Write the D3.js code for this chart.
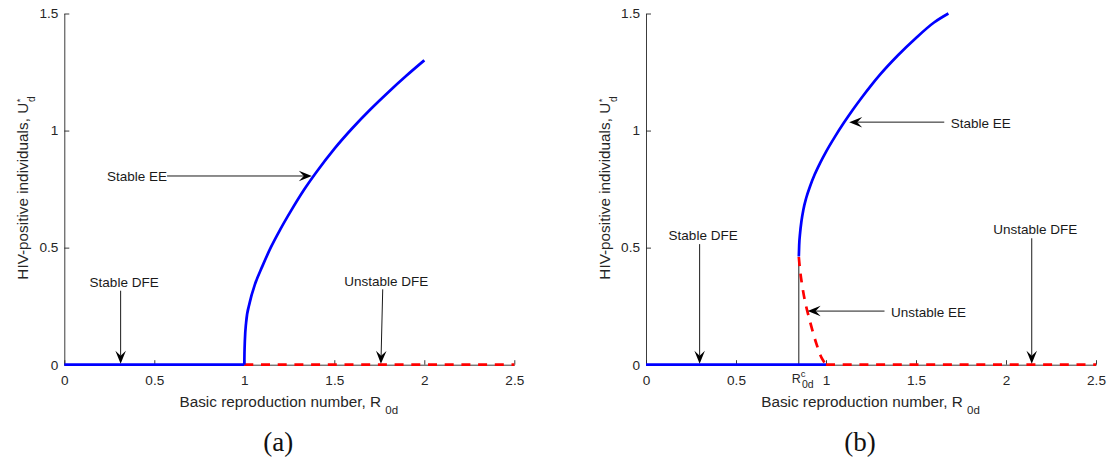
<!DOCTYPE html>
<html>
<head>
<meta charset="utf-8">
<script src="https://cdn.jsdelivr.net/npm/d3@7"></script>
<style>
  html, body { margin: 0; padding: 0; background: #fff; }
  svg { display: block; }
  .tick text { font-family: "Liberation Sans", Arial, Helvetica, sans-serif; font-size: 13.6px; fill: #262626; }
</style>
</head>
<body>
<svg id="chart" width="1110" height="466"></svg>
<script>
// Axis ticks shared by both panels
const xTicks = [0, 0.5, 1, 1.5, 2, 2.5];
const yTicks = [0, 0.5, 1, 1.5];

// Panel (a): forward bifurcation
const aDfeStableX = [0, 1];
const aDfeStableY = [0, 0];
const aDfeUnstableX = [1, 2.5];
const aDfeUnstableY = [0, 0];
const aEeX = [1.0, 1.001, 1.003, 1.01, 1.03, 1.06, 1.10, 1.15, 1.20, 1.26, 1.33, 1.40, 1.50, 1.60, 1.70, 1.80, 1.90, 2.0];
const aEeY = [0, 0.05, 0.10, 0.18, 0.265, 0.345, 0.42, 0.505, 0.578, 0.658, 0.745, 0.822, 0.922, 1.01, 1.09, 1.164, 1.234, 1.30];

// Panel (b): backward bifurcation
const bDfeStableX = [0, 1];
const bDfeStableY = [0, 0];
const bDfeUnstableX = [1, 2.5];
const bDfeUnstableY = [0, 0];
const bEeStableX = [0.849, 0.851, 0.856, 0.864, 0.874, 0.89, 0.911, 0.937, 0.967, 1.0, 1.05, 1.1, 1.15, 1.2, 1.25, 1.3, 1.4, 1.5, 1.6, 1.68];
const bEeStableY = [0.462, 0.51, 0.562, 0.615, 0.661, 0.712, 0.761, 0.812, 0.861, 0.909, 0.974, 1.034, 1.09, 1.1425, 1.192, 1.2385, 1.3215, 1.3955, 1.4615, 1.5];
const bEeUnstableX = [0.849, 0.855, 0.863, 0.882, 0.909, 0.946, 0.975, 1.0];
const bEeUnstableY = [0.46, 0.41, 0.362, 0.276, 0.191, 0.091, 0.03, 0];
const bThresholdR = 0.849;      // R_0d^c
const bThresholdTop = 0.455;

// Arrow annotations (data units: tail -> head)
const aNotes = [
  { label: "Stable EE",    x0: 0.571, y0: 0.806, x1: 1.375, y1: 0.806, side: "left" },
  { label: "Stable DFE",   x0: 0.313, y0: 0.316, x1: 0.313, y1: 0.004, side: "top" },
  { label: "Unstable DFE", x0: 1.769, y0: 0.322, x1: 1.759, y1: 0.004, side: "top" }
];
const bNotes = [
  { label: "Stable DFE",   x0: 0.298, y0: 0.515, x1: 0.298, y1: 0.004, side: "top" },
  { label: "Unstable EE",  x0: 1.325, y0: 0.229, x1: 0.898, y1: 0.229, side: "right" },
  { label: "Unstable DFE", x0: 2.143, y0: 0.540, x1: 2.143, y1: 0.004, side: "top" },
  { label: "Stable EE",    x0: 1.657, y0: 1.036, x1: 1.129, y1: 1.036, side: "right" }
];

const panelNames = ["(a)", "(b)"];

const SANS = '"Liberation Sans", Arial, Helvetica, sans-serif';
const svg = d3.select("#chart");

const y = d3.scaleLinear().domain([0, 1.5]).range([364.7, 13.5]);
const xA = d3.scaleLinear().domain([0, 2.5]).range([64.3, 514.3]);
const xB = d3.scaleLinear().domain([0, 2.5]).range([646, 1096]);

function zip(xs, ys) { return xs.map((v, i) => [v, ys[i]]); }

function drawAxes(g, x) {
  const xAxis = d3.axisBottom(x).tickValues(xTicks).tickFormat(d3.format("~g"))
    .tickSizeInner(-4.5).tickSizeOuter(0).tickPadding(10.8);
  const yAxis = d3.axisLeft(y).tickValues(yTicks).tickFormat(d3.format("~g"))
    .tickSizeInner(-5).tickSizeOuter(0).tickPadding(6);
  const gx = g.append("g").attr("transform", `translate(0,${y(0)})`).call(xAxis);
  const gy = g.append("g").attr("transform", `translate(${x(0)},0)`).call(yAxis);
  [gx, gy].forEach(a => {
    a.select(".domain").attr("stroke", "#262626").attr("stroke-width", 0.9);
    a.selectAll(".tick line").attr("stroke", "#262626").attr("stroke-width", 0.9);
    a.attr("font-family", null).attr("font-size", null);
  });
}

function drawLabels(g, x, name) {
  const [r0, r1] = x.range();
  const cx = (r0 + r1) / 2;
  // x-axis title
  const xt = g.append("text")
    .attr("x", cx - 0.5).attr("y", 407)
    .attr("text-anchor", "middle")
    .attr("font-family", SANS).attr("font-size", 15.3).attr("fill", "#262626");
  xt.append("tspan").text("Basic reproduction number, R ");
  xt.append("tspan").attr("font-size", 11.5).attr("dy", 7).text("0d");

  // y-axis title
  const yt = g.append("text")
    .attr("transform", `translate(${r0 - 36.5},${(y(0) + y(1.5)) / 2 - 1}) rotate(-90)`)
    .attr("text-anchor", "middle")
    .attr("font-family", SANS).attr("font-size", 15.3).attr("fill", "#262626");
  yt.append("tspan").text("HIV-positive individuals, U");
  yt.append("tspan").attr("font-size", 9.5).attr("dx", 0.5).attr("dy", -5).text("*");
  yt.append("tspan").attr("font-size", 10).attr("dx", -3.5).attr("dy", 12).text("d");

  // panel tag
  g.append("text")
    .attr("x", cx - 11).attr("y", 451)
    .attr("text-anchor", "middle")
    .attr("font-family", '"Liberation Serif", "Times New Roman", serif')
    .attr("font-size", 27).attr("fill", "#111")
    .text(name);
}

function drawCurves(g, x, parts) {
  const line = d3.line().x(d => x(d[0])).y(d => y(d[1]));
  parts.forEach(p => {
    g.append("path")
      .datum(p.data)
      .attr("d", line.curve(p.curve || d3.curveLinear))
      .attr("fill", "none")
      .attr("stroke", p.color)
      .attr("stroke-width", 2.7)
      .attr("stroke-dasharray", p.dashed ? "9,7.7" : null)
      .attr("stroke-linejoin", "round");
  });
}

function drawNotes(g, x, notes) {
  const L = 13, W = 10.5, N = 8;
  notes.forEach(n => {
    const px0 = x(n.x0), py0 = y(n.y0), px1 = x(n.x1), py1 = y(n.y1);
    const ang = Math.atan2(py1 - py0, px1 - px0);
    const ex = px1 - Math.cos(ang) * N, ey = py1 - Math.sin(ang) * N;
    g.append("line")
      .attr("x1", px0).attr("y1", py0).attr("x2", ex).attr("y2", ey)
      .attr("stroke", "#000").attr("stroke-width", 0.9);
    g.append("path")
      .attr("d", `M0,0 L${-L},${-W / 2} L${-N},0 L${-L},${W / 2} Z`)
      .attr("transform", `translate(${px1},${py1}) rotate(${ang * 180 / Math.PI})`)
      .attr("fill", "#000");
    const t = g.append("text")
      .attr("font-family", SANS).attr("font-size", 13.5).attr("fill", "#1a1a1a")
      .text(n.label);
    if (n.side === "top") {
      t.attr("x", px0 + 3.5).attr("y", py0 - 3.8).attr("text-anchor", "middle");
    } else if (n.side === "left") {
      t.attr("x", px0).attr("y", py0 + 5).attr("text-anchor", "end");
    } else {
      t.attr("x", px0 + 6.5).attr("y", py0 + 5.5).attr("text-anchor", "start");
    }
  });
}

// ---- Panel (a)
const gA = svg.append("g");
drawAxes(gA, xA);
drawCurves(gA, xA, [
  { data: zip(aDfeStableX, aDfeStableY), color: "#0000ff" },
  { data: zip(aDfeUnstableX, aDfeUnstableY), color: "#ff0000", dashed: true },
  { data: zip(aEeX, aEeY), color: "#0000ff", curve: d3.curveMonotoneX }
]);
drawNotes(gA, xA, aNotes);
drawLabels(gA, xA, panelNames[0]);

// ---- Panel (b)
const gB = svg.append("g");
drawAxes(gB, xB);
gB.append("line")
  .attr("x1", xB(bThresholdR)).attr("x2", xB(bThresholdR))
  .attr("y1", y(0)).attr("y2", y(bThresholdTop))
  .attr("stroke", "#000").attr("stroke-width", 0.9);
drawCurves(gB, xB, [
  { data: zip(bDfeStableX, bDfeStableY), color: "#0000ff" },
  { data: zip(bDfeUnstableX, bDfeUnstableY), color: "#ff0000", dashed: true },
  { data: zip(bEeStableX, bEeStableY), color: "#0000ff", curve: d3.curveMonotoneX },
  { data: zip(bEeUnstableX, bEeUnstableY), color: "#ff0000", dashed: true, curve: d3.curveCatmullRom }
]);
drawNotes(gB, xB, bNotes);
drawLabels(gB, xB, panelNames[1]);

// threshold label R_0d^c under the axis
const rc = gB.append("text")
  .attr("x", xB(bThresholdR) - 7).attr("y", 382.7)
  .attr("font-family", SANS).attr("font-size", 12.5).attr("fill", "#262626");
rc.append("tspan").text("R");
rc.append("tspan").attr("font-size", 9.5).attr("dy", -6).text("c");
rc.append("tspan").attr("font-size", 10.5).attr("dx", -3.6).attr("dy", 11.6).text("0d");
</script>
</body>
</html>
